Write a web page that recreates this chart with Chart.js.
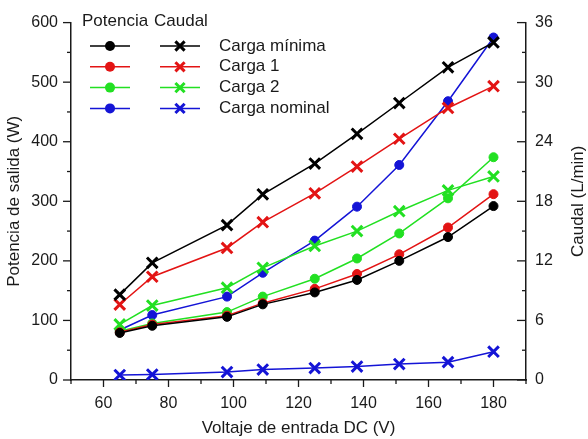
<!DOCTYPE html>
<html>
<head>
<meta charset="utf-8">
<script src="https://cdn.jsdelivr.net/npm/chart.js@4/dist/chart.umd.min.js"></script>
<style>
  html, body { margin: 0; padding: 0; background: #fff; }
  #wrap { width: 588px; height: 439px; }
</style>
</head>
<body>
<div id="wrap"><canvas id="chart" width="588" height="439"></canvas></div>
<script>
const voltaje = [65, 75, 98, 109, 125, 138, 151, 166, 180];

// Potencia de salida (W)
const potMinima = [79, 91, 106, 127, 147, 168, 200, 240, 292];
const potCarga1 = [80, 93, 108, 129, 153, 178, 211, 256, 312];
const potCarga2 = [82, 95, 114, 140, 170, 204, 246, 305, 374];
const potNominal = [84, 109, 140, 180, 234, 291, 361, 468, 575];

// Caudal (L/min)
const cauMinima = [8.6, 11.8, 15.6, 18.7, 21.8, 24.8, 27.9, 31.5, 34.0];
const cauCarga1 = [7.6, 10.4, 13.3, 15.9, 18.8, 21.5, 24.3, 27.4, 29.6];
const cauCarga2 = [5.6, 7.5, 9.3, 11.3, 13.5, 15.0, 17.0, 19.1, 20.5];
const cauNominal = [0.5, 0.55, 0.8, 1.05, 1.2, 1.35, 1.6, 1.8, 2.85];

const seriesNames = ["Carga mínima", "Carga 1", "Carga 2", "Carga nominal"];
const seriesColors = ["#000000", "#e31414", "#22e022", "#1414d6"];

const xTicks = [60, 80, 100, 120, 140, 160, 180];
const yTicks = [0, 100, 200, 300, 400, 500, 600];
const y1Ticks = [0, 6, 12, 18, 24, 30, 36];

const FONT = "'Liberation Sans', Arial, sans-serif";
const INK = "#1a1a1a";

function pts(ys) {
  return voltaje.map((x, i) => ({ x, y: ys[i] }));
}

function potDataset(name, ys, color) {
  return {
    label: "Potencia " + name, data: pts(ys), yAxisID: "y",
    borderColor: color, backgroundColor: color, borderWidth: 1.5,
    pointStyle: "circle", pointRadius: 4.5, pointBorderWidth: 1, tension: 0
  };
}

function cauDataset(name, ys, color) {
  return {
    label: "Caudal " + name, data: pts(ys), yAxisID: "y1",
    borderColor: color, backgroundColor: color, borderWidth: 1.5,
    pointStyle: "crossRot", pointRadius: 7.5, pointBorderWidth: 3, tension: 0
  };
}

const potSeries = [potMinima, potCarga1, potCarga2, potNominal];
const cauSeries = [cauMinima, cauCarga1, cauCarga2, cauNominal];

const datasets = [];
seriesNames.forEach((n, i) => {
  datasets.push(potDataset(n, potSeries[i], seriesColors[i]));
  datasets.push(cauDataset(n, cauSeries[i], seriesColors[i]));
});

function fixTicks(values) {
  return scale => { scale.ticks = values.map(v => ({ value: v })); };
}

// major + minor tick marks (right axis points inward)
const tickMarks = {
  id: "tickMarks",
  afterDraw(chart) {
    const ctx = chart.ctx;
    const { x, y, y1 } = chart.scales;
    ctx.save();
    ctx.strokeStyle = INK;
    ctx.lineWidth = 1.3;
    const mark = (x1, y1_, x2, y2) => {
      ctx.beginPath(); ctx.moveTo(x1, y1_); ctx.lineTo(x2, y2); ctx.stroke();
    };
    const minorsOf = (vals, min, max) => {
      const step = vals[1] - vals[0];
      const out = [];
      for (let v = vals[0] - step / 2; v <= max; v += step) if (v >= min) out.push(v);
      return out;
    };
    const bottom = chart.chartArea.bottom, left = chart.chartArea.left, right = chart.chartArea.right;
    xTicks.forEach(v => { const p = x.getPixelForValue(v); mark(p, bottom, p, bottom + 7); });
    minorsOf(xTicks, x.min, x.max).forEach(v => { const p = x.getPixelForValue(v); mark(p, bottom, p, bottom + 4); });
    yTicks.forEach(v => { const p = y.getPixelForValue(v); mark(left, p, left - 8, p); });
    minorsOf(yTicks, y.min, y.max).forEach(v => { const p = y.getPixelForValue(v); mark(left, p, left - 4, p); });
    y1Ticks.forEach(v => { const p = y1.getPixelForValue(v); mark(right, p, right - 9, p); });
    minorsOf(y1Ticks, y1.min, y1.max).forEach(v => { const p = y1.getPixelForValue(v); mark(right, p, right - 4, p); });

    // right axis title reads bottom to top
    ctx.fillStyle = INK;
    ctx.font = "17px " + FONT;
    ctx.textAlign = "center";
    ctx.textBaseline = "middle";
    ctx.translate(578, (chart.chartArea.top + chart.chartArea.bottom) / 2);
    ctx.rotate(-Math.PI / 2);
    ctx.fillText("Caudal (L/min)", 0, 0);
    ctx.restore();
  }
};

// two-column legend: Potencia (dots) / Caudal (crosses)
const twoColLegend = {
  id: "twoColLegend",
  afterDraw(chart) {
    const ctx = chart.ctx;
    ctx.save();
    ctx.font = "17px " + FONT;
    ctx.fillStyle = INK;
    ctx.textBaseline = "middle";
    ctx.textAlign = "left";
    ctx.fillText("Potencia", 82, 21);
    ctx.fillText("Caudal", 154, 21);
    seriesNames.forEach((name, i) => {
      const yy = 46 + i * 20.8;
      const c = seriesColors[i];
      ctx.strokeStyle = c;
      ctx.fillStyle = c;
      ctx.lineWidth = 1.5;
      ctx.beginPath(); ctx.moveTo(90, yy); ctx.lineTo(130, yy); ctx.stroke();
      ctx.beginPath(); ctx.arc(110, yy, 5, 0, Math.PI * 2); ctx.fill();
      ctx.beginPath(); ctx.moveTo(160, yy); ctx.lineTo(200, yy); ctx.stroke();
      ctx.lineWidth = 3;
      const r = 4.6;
      ctx.beginPath();
      ctx.moveTo(180 - r, yy - r); ctx.lineTo(180 + r, yy + r);
      ctx.moveTo(180 - r, yy + r); ctx.lineTo(180 + r, yy - r);
      ctx.stroke();
      ctx.fillStyle = INK;
      ctx.fillText(name, 219, yy);
    });
    ctx.restore();
  }
};

new Chart(document.getElementById("chart"), {
  type: "line",
  data: { datasets },
  options: {
    responsive: false,
    animation: false,
    devicePixelRatio: 1,
    layout: { padding: { top: 12, left: 0, right: 0, bottom: 0 } },
    plugins: { legend: { display: false }, tooltip: { enabled: false } },
    scales: {
      x: {
        type: "linear", min: 50, max: 190,
        afterBuildTicks: fixTicks(xTicks),
        afterFit: s => { s.height = 59; },
        grid: { display: false, drawTicks: false },
        border: { display: true, color: INK, width: 1.5 },
        ticks: { color: INK, font: { family: FONT, size: 16 }, padding: 14, maxRotation: 0 },
        title: { display: true, text: "Voltaje de entrada DC (V)", color: INK,
                 font: { family: FONT, size: 17 }, padding: { top: 1, bottom: 0 } }
      },
      y: {
        type: "linear", position: "left", min: 0, max: 600,
        afterBuildTicks: fixTicks(yTicks),
        afterFit: s => { s.width = 71; },
        grid: { display: false, drawTicks: false },
        border: { display: true, color: INK, width: 1.5 },
        ticks: { color: INK, font: { family: FONT, size: 16 }, padding: 13 },
        title: { display: true, text: "Potencia de salida (W)", color: INK,
                 font: { family: FONT, size: 17 }, padding: { top: 4, bottom: 0 } }
      },
      y1: {
        type: "linear", position: "right", min: 0, max: 36,
        afterBuildTicks: fixTicks(y1Ticks),
        afterFit: s => { s.width = 62; },
        grid: { display: false, drawTicks: false },
        border: { display: true, color: INK, width: 1.5 },
        ticks: { color: INK, font: { family: FONT, size: 16 }, padding: 9 }
      }
    }
  },
  plugins: [tickMarks, twoColLegend]
});
</script>
</body>
</html>
